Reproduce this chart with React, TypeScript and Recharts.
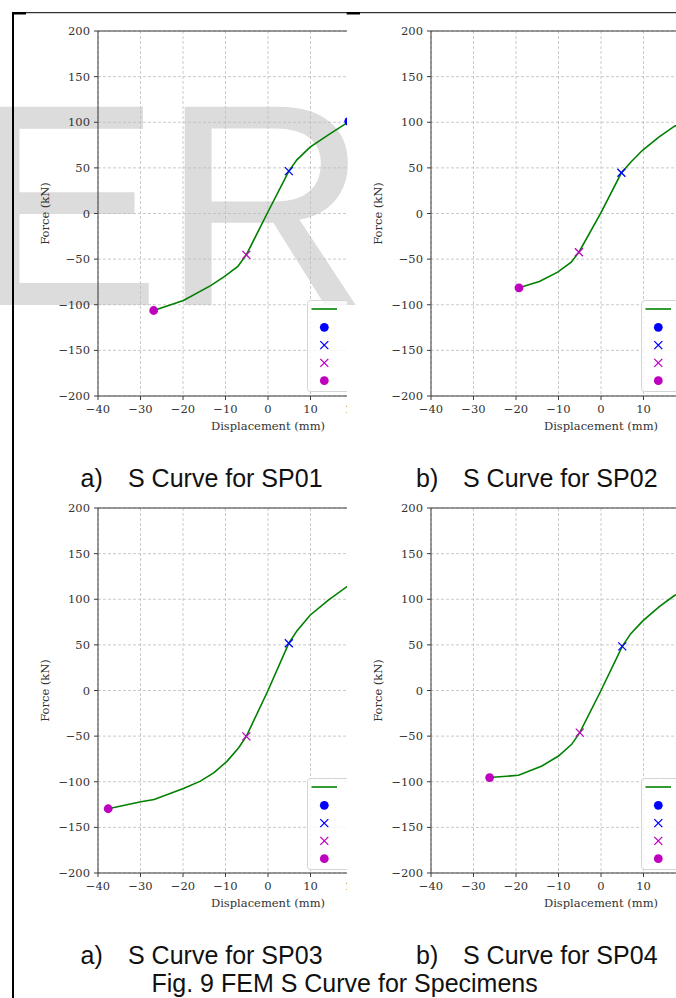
import React from 'react';
import { ComposedChart, Line, Scatter, XAxis, YAxis, CartesianGrid, ReferenceLine } from 'recharts';

// axis ticks
const xTicks = [-40, -30, -20, -10, 0, 10, 20, 30, 40];
const yTicks = [-200, -150, -100, -50, 0, 50, 100, 150, 200];

// SP01
const sp01Disp = [-26.9, -19.9, -13.5, -10.2, -7.1, -5.1, -0.2, 4.9, 6.8, 9.9, 14.2, 19.0];
const sp01Force = [-106.3, -95.3, -79, -69, -58, -45.3, 0, 46.4, 58.8, 72.7, 86.2, 100.5];
// [disp, force]: peak +, yield +, yield -, peak -
const sp01Marks = [[19.0, 101], [4.9, 46.4], [-5.1, -45.3], [-26.9, -106.3]];

// SP02
const sp02Disp = [-19.3, -14.5, -10.2, -7.0, -5.2, 0, 4.8, 7.0, 9.7, 13.6, 17.3, 21.5];
const sp02Force = [-81.4, -74.5, -64.3, -53.4, -42.4, 1, 44.6, 56.2, 69, 83.6, 95.7, 104];
const sp02Marks = [[21.5, 104], [4.8, 44.6], [-5.2, -42.4], [-19.3, -81.4]];

// SP03
const sp03Disp = [-37.6, -29.9, -26.8, -19.9, -15.9, -12.7, -9.6, -6.9, -5.1, 0, 4.9, 6.8, 9.9, 14.2, 18.5, 22.0];
const sp03Force = [-129.6, -122, -119.4, -107.4, -99.3, -90.1, -77.4, -62.7, -50.3, 0, 51.8, 65.3, 82.5, 99, 113.6, 122];
const sp03Marks = [[22.0, 122], [4.9, 51.8], [-5.1, -50.3], [-37.6, -129.6]];

// SP04
const sp04Disp = [-26.2, -19.4, -13.9, -10.0, -6.9, -5.0, 0, 5.0, 7.0, 9.9, 13.8, 17.2, 21.0];
const sp04Force = [-95.4, -92.9, -82.7, -71.8, -59, -46.2, 0, 48.4, 62.3, 76.5, 92.1, 103.8, 112];
const sp04Marks = [[21.0, 112], [5.0, 48.4], [-5.0, -46.2], [-26.2, -95.4]];

const GREEN = '#008000';
const markStyles = [
  { kind: 'dot', color: '#0000ff' },
  { kind: 'cross', color: '#0000ff' },
  { kind: 'cross', color: '#bf00bf' },
  { kind: 'dot', color: '#bf00bf' },
];

const SERIF = '"DejaVu Serif", serif';
const SANS = '"Liberation Sans", Arial, sans-serif';
const AXIS = '#3a3a3a';
const TXT = '#333';

const PW = 340;
const PH = 365;
const YW = 78;
const MT = 16;
const XH = 34;
const MB = 6;

const minus = (v: number) => String(v).replace('-', '\u2212');

const Marker = ({ cx, cy, kind, color }: any) =>
  kind === 'dot' ? (
    <circle cx={cx} cy={cy} r={4.4} fill={color} />
  ) : (
    <g stroke={color} strokeWidth={1.3}>
      <line x1={cx - 4} y1={cy - 4} x2={cx + 4} y2={cy + 4} />
      <line x1={cx - 4} y1={cy + 4} x2={cx + 4} y2={cy - 4} />
    </g>
  );

function Panel({ plotLeft, plotTop, clipLeft, clipRight, disp, force, marks }: any) {
  const curve = disp.map((x: number, i: number) => ({ x, f: force[i] }));
  return (
    <div
      style={{
        position: 'absolute',
        left: clipLeft,
        top: plotTop - MT,
        width: clipRight - clipLeft,
        height: MT + PH + XH + MB,
        overflow: 'hidden',
      }}
    >
      <div style={{ position: 'absolute', left: plotLeft - YW - clipLeft, top: 0 }}>
        <ComposedChart
          width={YW + PW + 10}
          height={MT + PH + XH + MB}
          margin={{ top: MT, right: 10, bottom: MB, left: 0 }}
        >
          <CartesianGrid stroke="#bdbdbd" strokeWidth={0.8} strokeDasharray="3 2" />
          <XAxis
            type="number"
            dataKey="x"
            domain={[-40, 40]}
            ticks={xTicks}
            height={XH}
            tickSize={4}
            tickMargin={5}
            tickFormatter={minus}
            axisLine={{ stroke: AXIS }}
            tickLine={{ stroke: AXIS }}
            tick={{ fontFamily: SERIF, fontSize: 11.5, fill: TXT }}
            label={{
              value: 'Displacement (mm)',
              position: 'insideBottom',
              offset: 0,
              style: { fontFamily: SERIF, fontSize: 11.5, fill: TXT },
            }}
          />
          <YAxis
            type="number"
            domain={[-200, 200]}
            ticks={yTicks}
            width={YW}
            tickSize={4}
            tickMargin={4}
            tickFormatter={minus}
            axisLine={{ stroke: AXIS }}
            tickLine={{ stroke: AXIS }}
            tick={{ fontFamily: SERIF, fontSize: 11.5, fill: TXT }}
            label={{
              value: 'Force (kN)',
              angle: -90,
              position: 'insideLeft',
              offset: 24.6,
              style: { fontFamily: SERIF, fontSize: 11.5, fill: TXT, textAnchor: 'middle' },
            }}
          />
          <ReferenceLine y={200} stroke={AXIS} />
          <ReferenceLine x={40} stroke={AXIS} />
          <Line
            data={curve}
            dataKey="f"
            type="linear"
            stroke={GREEN}
            strokeWidth={1.6}
            dot={false}
            isAnimationActive={false}
          />
          {marks.map((m: number[], i: number) => (
            <Scatter
              key={i}
              data={[{ x: m[0], f: m[1] }]}
              dataKey="f"
              isAnimationActive={false}
              shape={(p: any) => <Marker cx={p.cx} cy={p.cy} {...markStyles[i]} />}
            />
          ))}
        </ComposedChart>
        <svg
          width={128}
          height={93}
          style={{ position: 'absolute', left: YW + 209.5, top: MT + 269.5, overflow: 'visible' }}
        >
          <rect x={0.5} y={0.5} width={126} height={91} rx={3} fill="rgba(255,255,255,0.8)" stroke="#d4d4d4" />
          <line x1={4.5} x2={30} y1={9} y2={9} stroke={GREEN} strokeWidth={1.6} />
          {markStyles.map((s, i) => (
            <Marker key={i} cx={17.3} cy={27.3 + 17.8 * i} {...s} />
          ))}
        </svg>
      </div>
    </div>
  );
}

export default function App() {
  return (
    <div
      style={{
        position: 'absolute',
        left: 0,
        top: 0,
        width: 676,
        height: 998,
        overflow: 'hidden',
        background: '#fff',
      }}
    >
      <svg width={676} height={998} style={{ position: 'absolute', left: 0, top: 0 }}>
        <text x={-31} y={305} fontFamily={SANS} fontSize={288} fill="#dcdcdc">
          ER
        </text>
        <line x1={12} x2={676} y1={12.7} y2={12.7} stroke="#000" strokeWidth={1} />
        <rect x={12} y={12} width={14} height={2.5} fill="#000" />
        <rect x={346.7} y={12} width={13.3} height={2.5} fill="#000" />
        <rect x={12} y={12} width={2} height={986} fill="#000" />
        <g fontFamily={SANS} fontSize={25} fill="#111">
          <text x={80.5} y={486.5}>a)</text>
          <text x={128} y={486.5}>S Curve for SP01</text>
          <text x={416} y={486.5}>b)</text>
          <text x={463} y={486.5}>S Curve for SP02</text>
          <text x={80.5} y={964}>a)</text>
          <text x={128} y={964}>S Curve for SP03</text>
          <text x={416} y={964}>b)</text>
          <text x={463} y={964}>S Curve for SP04</text>
          <text x={151.5} y={992}>Fig. 9 FEM S Curve for Specimens</text>
        </g>
      </svg>
      <Panel plotLeft={97.7} plotTop={30.7} clipLeft={14} clipRight={346.7}
        disp={sp01Disp} force={sp01Force} marks={sp01Marks} />
      <Panel plotLeft={431.3} plotTop={30.7} clipLeft={350} clipRight={676}
        disp={sp02Disp} force={sp02Force} marks={sp02Marks} />
      <Panel plotLeft={97.7} plotTop={508.3} clipLeft={14} clipRight={346.7}
        disp={sp03Disp} force={sp03Force} marks={sp03Marks} />
      <Panel plotLeft={431.3} plotTop={508.3} clipLeft={350} clipRight={676}
        disp={sp04Disp} force={sp04Force} marks={sp04Marks} />
    </div>
  );
}
